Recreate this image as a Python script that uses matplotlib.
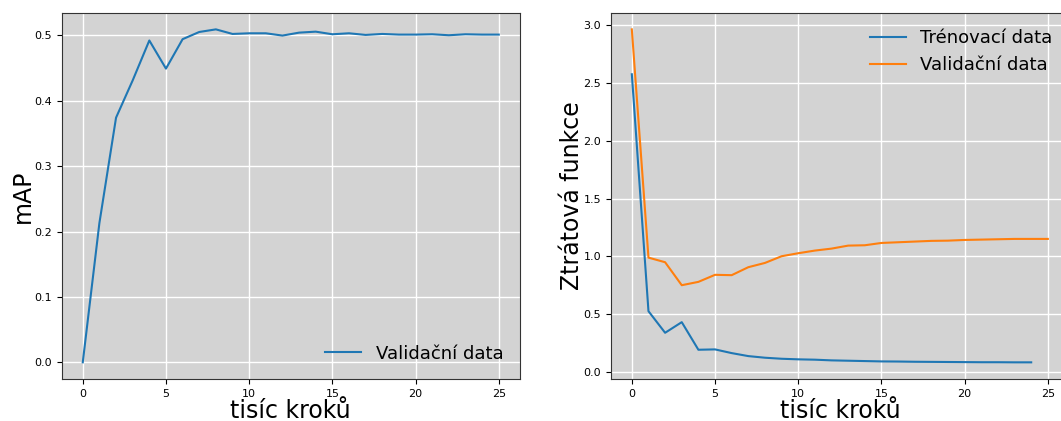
import matplotlib
matplotlib.use("Agg")
import matplotlib.pyplot as plt

steps_map = list(range(26))
map_val = [0.0, 0.213, 0.374, 0.431, 0.492, 0.449, 0.494, 0.505, 0.509, 0.502,
           0.503, 0.503, 0.4995, 0.504, 0.5055, 0.5015, 0.503, 0.5005, 0.502, 0.501,
           0.501, 0.5015, 0.500, 0.5015, 0.501, 0.501]

steps_train = list(range(25))
loss_train = [2.576, 0.524, 0.337, 0.429, 0.190, 0.193, 0.161, 0.135, 0.121, 0.112,
              0.107, 0.104, 0.098, 0.095, 0.092, 0.089, 0.088, 0.086, 0.085, 0.084,
              0.083, 0.082, 0.082, 0.081, 0.081]

steps_val = list(range(26))
loss_val = [2.965, 0.988, 0.948, 0.749, 0.778, 0.839, 0.836, 0.905, 0.942, 1.0,
            1.026, 1.049, 1.066, 1.092, 1.095, 1.115, 1.121, 1.127, 1.133, 1.135,
            1.141, 1.144, 1.147, 1.150, 1.150, 1.150]

fig = plt.figure(figsize=(10.61, 4.21), dpi=100)
ax1 = fig.add_axes([0.0584, 0.0998, 0.4313, 0.87])
ax2 = fig.add_axes([0.5759, 0.0998, 0.4313, 0.87])

for ax in (ax1, ax2):
    ax.set_facecolor("lightgray")
    ax.grid(True, color="white", linewidth=1.0)
    ax.set_axisbelow(True)
    ax.tick_params(labelsize=8)
    ax.set_xlabel("tisíc kroků", fontsize=17, labelpad=0)
    for s in ax.spines.values():
        s.set_color("#333333")

ax1.plot(steps_map, map_val, color="#1f77b4", linewidth=1.5, label="Validační data")
ax1.set_ylabel("mAP", fontsize=17, labelpad=0)
ax1.legend(loc="lower right", frameon=False, fontsize=13)

ax2.plot(steps_train, loss_train, color="#1f77b4", linewidth=1.5, label="Trénovací data")
ax2.plot(steps_val, loss_val, color="#ff7f0e", linewidth=1.5, label="Validační data")
ax2.set_ylabel("Ztrátová funkce", fontsize=17, labelpad=0)
ax2.legend(loc="upper right", frameon=False, fontsize=13)

fig.savefig("out.png", dpi=100)
